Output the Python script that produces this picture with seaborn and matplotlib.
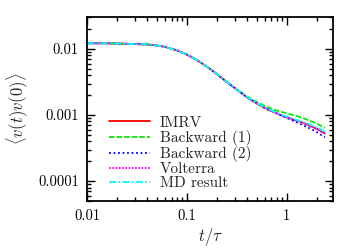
import matplotlib
matplotlib.use("Agg")
import matplotlib.pyplot as plt
import matplotlib.ticker as mticker
import seaborn as sns

# time axis (t / tau) and the velocity autocorrelation curves
t = [0.01, 0.015, 0.02, 0.03, 0.04, 0.05, 0.06, 0.08, 0.1, 0.12, 0.15, 0.18,
     0.22, 0.27, 0.33, 0.4, 0.5, 0.6, 0.75, 0.9, 1.1, 1.4, 1.7, 2.0, 2.4]

imrv = [0.0122, 0.0122, 0.0121, 0.0119, 0.0117, 0.0113, 0.0108, 0.0095, 0.0082,
        0.0071, 0.0057, 0.0047, 0.0037, 0.0029, 0.0023, 0.00185, 0.00150,
        0.00128, 0.00110, 0.00098, 0.00088, 0.00078, 0.00069, 0.00062, 0.00053]
backward1 = [0.0122, 0.0122, 0.0121, 0.0119, 0.0117, 0.0113, 0.0108, 0.0095, 0.0082,
             0.0071, 0.0057, 0.0047, 0.0037, 0.0029, 0.00235, 0.0019, 0.00158,
             0.00137, 0.00120, 0.00111, 0.00102, 0.00092, 0.00082, 0.00074, 0.00064]
backward2 = [0.0122, 0.0122, 0.0121, 0.0119, 0.0117, 0.0113, 0.0108, 0.0095, 0.0082,
             0.0071, 0.0057, 0.0047, 0.0037, 0.0029, 0.0023, 0.00185, 0.00150,
             0.00128, 0.00110, 0.00097, 0.00085, 0.00072, 0.00063, 0.00055, 0.00046]
volterra = [0.0122, 0.0122, 0.0121, 0.0119, 0.0117, 0.0113, 0.0108, 0.0095, 0.0082,
            0.0071, 0.0057, 0.0047, 0.0037, 0.0029, 0.0023, 0.00185, 0.00150,
            0.00128, 0.00110, 0.00098, 0.00088, 0.00078, 0.00069, 0.00061, 0.00052]
md_result = [0.0122, 0.0122, 0.0121, 0.0119, 0.0117, 0.0113, 0.0108, 0.0095, 0.0082,
             0.0071, 0.0057, 0.0047, 0.0037, 0.0029, 0.0023, 0.00187, 0.00152,
             0.00130, 0.00112, 0.00100, 0.00090, 0.00080, 0.00072, 0.00065, 0.00056]

series = [
    ("IMRV", imrv, "#ff0000", "-"),
    ("Backward (1)", backward1, "#00ee00", (0, (3, 1.2))),
    ("Backward (2)", backward2, "#0000ff", (0, (1, 1.5))),
    ("Volterra", volterra, "#ff00ff", (0, (1, 0.8))),
    ("MD result", md_result, "#00ffff", (0, (4, 1.2, 1, 1.2))),
]

sns.set_style("ticks")
plt.rcParams["font.family"] = ["cmr10", "DejaVu Serif"]
plt.rcParams["mathtext.fontset"] = "cm"
plt.rcParams["axes.unicode_minus"] = False
plt.rcParams["axes.formatter.use_mathtext"] = True

fig = plt.figure(figsize=(3.6, 2.5), dpi=100)
ax = fig.add_axes([0.242, 0.196, 0.683, 0.736])

for name, vals, col, ls in series:
    sns.lineplot(x=t, y=vals, ax=ax, color=col, linestyle=ls, linewidth=1.3,
                 label=name)

ax.set_xscale("log")
ax.set_yscale("log")
ax.set_xlim(0.01, 2.9)
ax.set_ylim(5e-5, 0.0305)

fmt = mticker.FuncFormatter(lambda v, p: "%g" % v)
ax.xaxis.set_major_formatter(fmt)
ax.yaxis.set_major_formatter(fmt)
ax.xaxis.set_major_locator(mticker.FixedLocator([0.01, 0.1, 1]))
ax.yaxis.set_major_locator(mticker.FixedLocator([0.0001, 0.001, 0.01]))
ax.xaxis.set_minor_locator(mticker.LogLocator(subs=range(2, 10)))
ax.yaxis.set_minor_locator(mticker.LogLocator(subs=range(2, 10)))
ax.xaxis.set_minor_formatter(mticker.NullFormatter())
ax.yaxis.set_minor_formatter(mticker.NullFormatter())

ax.tick_params(which="both", direction="in", top=True, right=True,
               labelsize=10.5, width=1.0, colors="black", pad=6)
ax.tick_params(which="major", length=6)
ax.tick_params(which="minor", length=3)
for s in ax.spines.values():
    s.set_linewidth(1.3)
    s.set_color("black")

ax.set_xlabel(r"$t/\tau$", fontsize=12, labelpad=2)
ax.set_ylabel(r"$\langle v(t)v(0)\rangle$", fontsize=12, labelpad=6)

ax.legend(loc="lower left", bbox_to_anchor=(0.045, 0.0), frameon=False,
          fontsize=11, handlelength=2.7, handletextpad=0.65, labelspacing=0.02,
          borderaxespad=0.3)

fig.savefig("out.png", dpi=100)
